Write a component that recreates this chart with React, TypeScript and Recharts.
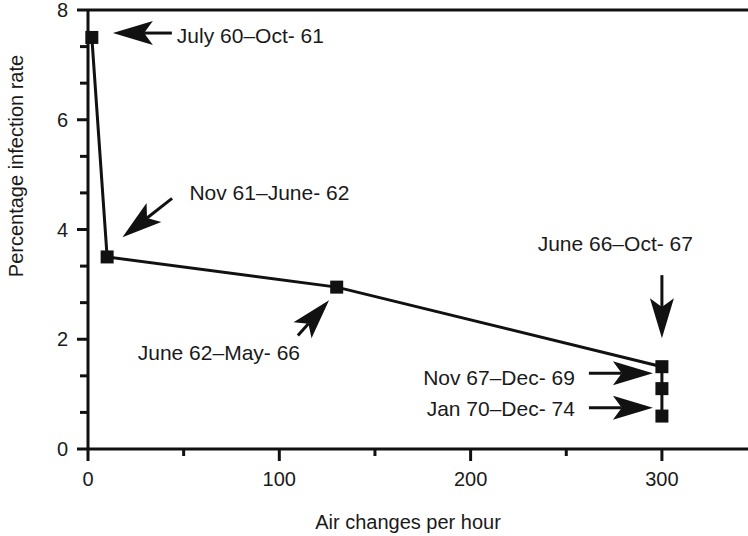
import React from 'react';
import { ComposedChart, Line, XAxis, YAxis, ReferenceLine, ReferenceDot } from 'recharts';

// measured points
const airChanges = [2, 10, 130, 300, 300, 300];
const infectionRate = [7.5, 3.5, 2.95, 1.5, 1.1, 0.6];

const xTicks = [0, 50, 100, 150, 200, 250, 300];
const xMajorTicks = [0, 100, 200, 300];
const yTicks = [0, 0.667, 1.333, 2, 2.667, 3.333, 4, 4.667, 5.333, 6, 6.667, 7.333, 8];
const yMajorTicks = [0, 2, 4, 6, 8];

// annotation periods and where their arrows point (data units)
const periods = [
  'July 60–Oct- 61',
  'Nov 61–June- 62',
  'June 62–May- 66',
  'June 66–Oct- 67',
  'Nov 67–Dec- 69',
  'Jan 70–Dec- 74',
];
const arrowTipX = [13, 18, 126, 300, 295.3, 295.3];
const arrowTipY = [7.58, 3.86, 2.71, 2.02, 1.38, 0.75];

// arrow drawing style (pixels / degrees)
const arrowStyle = [
  { angle: 180, len: 59, dx: 64, dy: 2, anchor: 'start' },
  { angle: 142, len: 63, dx: 67, dy: -45, anchor: 'start' },
  { angle: -48.5, len: 47, dx: -29, dy: 52, anchor: 'end' },
  { angle: 90, len: 63, dx: 31, dy: -95, anchor: 'end' },
  { angle: 0, len: 64, dx: -78, dy: 4, anchor: 'end' },
  { angle: 0, len: 64, dx: -78, dy: 1, anchor: 'end' },
];

const data = airChanges.map((x, i) => ({ x, rate: infectionRate[i] }));

const INK = '#111';
const TEXT = '#1a1a1a';
const FONT = '"Liberation Sans", Arial, Helvetica, sans-serif';

const Arrow = ({ cx, cy, angle, len, label, dx, dy, anchor }: any) => {
  const a = (angle * Math.PI) / 180;
  const ux = Math.cos(a);
  const uy = Math.sin(a);
  const nx = -uy;
  const ny = ux;
  const headL = Math.min(40, len - 6);
  const headW = 12;
  const bx = cx - headL * ux;
  const by = cy - headL * uy;
  const notchX = cx - headL * 0.78 * ux;
  const notchY = cy - headL * 0.78 * uy;
  const head = [
    `${cx},${cy}`,
    `${bx + headW * nx},${by + headW * ny}`,
    `${notchX},${notchY}`,
    `${bx - headW * nx},${by - headW * ny}`,
  ].join(' ');
  return (
    <g>
      <line
        x1={cx - len * ux}
        y1={cy - len * uy}
        x2={notchX}
        y2={notchY}
        stroke={INK}
        strokeWidth={3}
      />
      <polygon points={head} fill={INK} />
      <text
        x={cx + dx}
        y={cy + dy}
        textAnchor={anchor}
        dominantBaseline="central"
        fontSize={21}
        fontFamily={FONT}
        fill={TEXT}
      >
        {label}
      </text>
    </g>
  );
};

const SquareDot = ({ cx, cy, index }: any) => (
  <rect key={`pt-${index}`} x={cx - 6.5} y={cy - 6.5} width={13} height={13} fill={INK} />
);

const XTick = ({ x, y, payload }: any) => {
  const major = xMajorTicks.includes(payload.value);
  return (
    <g>
      <line x1={x} x2={x} y1={y} y2={y + (major ? 12 : 7)} stroke={INK} strokeWidth={3} />
      {major && (
        <text
          x={x}
          y={y + 30}
          textAnchor="middle"
          dominantBaseline="central"
          fontSize={20}
          fontFamily={FONT}
          fill={TEXT}
        >
          {payload.value}
        </text>
      )}
    </g>
  );
};

const YTick = ({ x, y, payload }: any) => {
  const major = yMajorTicks.includes(payload.value);
  return (
    <g>
      <line x1={x} x2={x - (major ? 11 : 8)} y1={y} y2={y} stroke={INK} strokeWidth={3} />
      {major && (
        <text
          x={x - 20}
          y={y}
          textAnchor="end"
          dominantBaseline="central"
          fontSize={20}
          fontFamily={FONT}
          fill={TEXT}
        >
          {payload.value}
        </text>
      )}
    </g>
  );
};

const YTitle = () => (
  <text
    transform="translate(16,166) rotate(-90)"
    textAnchor="middle"
    dominantBaseline="central"
    fontSize={20}
    fontFamily={FONT}
    fill={TEXT}
  >
    Percentage infection rate
  </text>
);

const XTitle = () => (
  <text
    x={408}
    y={522}
    textAnchor="middle"
    dominantBaseline="central"
    fontSize={20}
    fontFamily={FONT}
    fill={TEXT}
  >
    Air changes per hour
  </text>
);

export default function App() {
  return (
    <div style={{ position: 'absolute', left: 0, top: 0, background: '#fff' }}>
      <ComposedChart
        width={748}
        height={536}
        data={data}
        margin={{ top: 10, right: 0, bottom: 0, left: 0 }}
      >
        <XAxis
          type="number"
          dataKey="x"
          domain={[0, 345]}
          ticks={xTicks}
          interval={0}
          height={87}
          tickSize={0}
          tickMargin={0}
          tickLine={false}
          tick={<XTick />}
          axisLine={{ stroke: INK, strokeWidth: 3 }}
          label={<XTitle />}
        />
        <YAxis
          type="number"
          domain={[0, 8]}
          ticks={yTicks}
          interval={0}
          width={88}
          tickSize={0}
          tickMargin={0}
          tickLine={false}
          tick={<YTick />}
          axisLine={{ stroke: INK, strokeWidth: 3 }}
          label={<YTitle />}
        />
        <ReferenceLine y={8} stroke={INK} strokeWidth={3} />
        <Line
          type="linear"
          dataKey="rate"
          stroke={INK}
          strokeWidth={3}
          dot={<SquareDot />}
          activeDot={false}
          isAnimationActive={false}
        />
        {periods.map((p, i) => (
          <ReferenceDot
            key={p}
            x={arrowTipX[i]}
            y={arrowTipY[i]}
            r={0}
            shape={(props: any) => (
              <Arrow cx={props.cx} cy={props.cy} label={p} {...arrowStyle[i]} />
            )}
          />
        ))}
      </ComposedChart>
    </div>
  );
}
